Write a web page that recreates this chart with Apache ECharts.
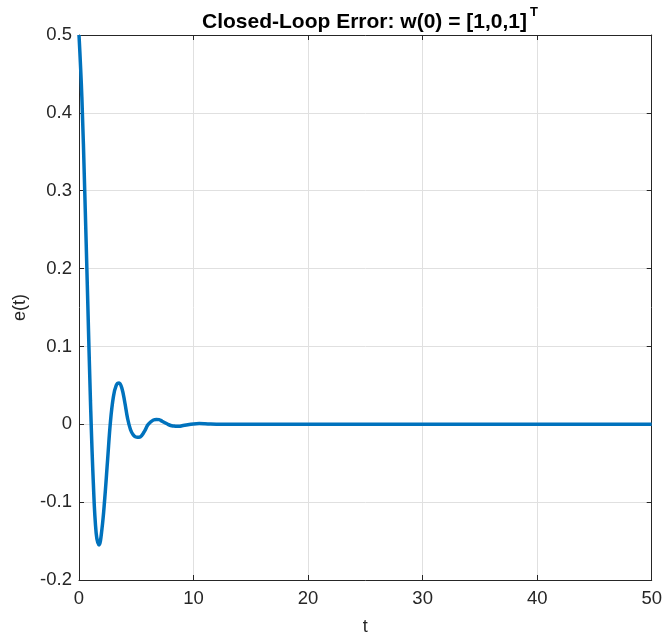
<!DOCTYPE html>
<html>
<head>
<meta charset="utf-8">
<script src="https://cdn.jsdelivr.net/npm/echarts@6/dist/echarts.min.js"></script>
<style>
html,body{margin:0;padding:0;background:#fff;}
#c{width:665px;height:641px;}
</style>
</head>
<body>
<div id="c"></div>
<script>
// time samples (t) and closed-loop error values e(t)
var tValues = [0, 0.25, 0.5, 0.75, 1.0, 1.25, 1.5, 1.75, 2.0, 2.25, 2.5, 2.75, 3.0, 3.25, 3.5, 3.75, 4.0, 4.25, 4.5, 4.75, 5.0, 5.25, 5.5, 5.75, 6.0, 6.25, 6.5, 6.75, 7.0, 7.25, 7.5, 7.75, 8.0, 8.25, 8.5, 8.75, 9.0, 9.5, 10.0, 10.5, 11.0, 11.5, 12.0, 13.0, 20, 30, 40, 50];
var eValues = [0.5, 0.42, 0.30, 0.165, 0.03, -0.075, -0.14, -0.155, -0.135, -0.095, -0.045, 0.004, 0.035, 0.05, 0.053, 0.046, 0.028, 0.007, -0.007, -0.014, -0.0165, -0.0167, -0.014, -0.008, -0.001, 0.003, 0.0055, 0.0062, 0.006, 0.004, 0.002, 0.0, -0.0015, -0.0022, -0.0026, -0.0026, -0.002, -0.0005, 0.0005, 0.0009, 0.0007, 0.0003, 0.0001, 0, 0, 0, 0, 0];
var xTicks = [0, 10, 20, 30, 40, 50];
var yTicks = [-0.2, -0.1, 0, 0.1, 0.2, 0.3, 0.4, 0.5];
var titleMain = 'Closed-Loop Error: w(0) = [1,0,1]';
var titleSup = 'T';
var xName = 't';
var yName = 'e(t)';

var chart = echarts.init(document.getElementById('c'), null, {renderer: 'canvas'});
var seriesData = tValues.map(function (t, i) { return [t, eValues[i]]; });
var font = 'Liberation Sans, Arial, Helvetica, sans-serif';
var axisCol = '#262626';
var tickFs = 18.5;

function mkX(pos, showLabel) {
  return {
    type: 'value', position: pos, min: xTicks[0], max: xTicks[xTicks.length - 1], interval: 10,
    axisLine: {show: true, onZero: false, lineStyle: {color: axisCol, width: 1}},
    axisTick: {show: true, inside: true, length: 5, lineStyle: {color: axisCol}},
    axisLabel: {show: showLabel, color: axisCol, fontSize: tickFs, fontFamily: font, margin: 9},
    splitLine: {show: showLabel, lineStyle: {color: '#e0e0e0', width: 1}},
    name: showLabel ? xName : '', nameLocation: 'middle', nameGap: 38,
    nameTextStyle: {color: axisCol, fontSize: 18, fontFamily: font}
  };
}
function mkY(pos, showLabel) {
  return {
    type: 'value', position: pos, min: yTicks[0], max: yTicks[yTicks.length - 1], interval: 0.1,
    axisLine: {show: true, onZero: false, lineStyle: {color: axisCol, width: 1}},
    axisTick: {show: true, inside: true, length: 5, lineStyle: {color: axisCol}},
    axisLabel: {show: showLabel, color: axisCol, fontSize: tickFs, fontFamily: font, margin: 7,
      formatter: function (v) { return (Math.round(v * 10) / 10).toString(); }},
    splitLine: {show: showLabel, lineStyle: {color: '#e0e0e0', width: 1}},
    name: showLabel ? yName : '', nameLocation: 'middle', nameGap: 45, nameRotate: 90,
    nameTextStyle: {color: axisCol, fontSize: 18, fontFamily: font}
  };
}

chart.setOption({
  backgroundColor: '#ffffff',
  animation: false,
  graphic: [
    {type: 'text', x: 202, y: 22, silent: true,
      style: {text: titleMain, fill: '#000', fontSize: 21, fontWeight: 'bold', fontFamily: font, align: 'left', verticalAlign: 'middle'}},
    {type: 'text', x: 530, y: 12, silent: true,
      style: {text: titleSup, fill: '#000', fontSize: 13, fontWeight: 'bold', fontFamily: font, align: 'left', verticalAlign: 'middle'}}
  ],
  grid: {left: 79, right: 13, top: 35, bottom: 58, containLabel: false},
  xAxis: [mkX('bottom', true), mkX('top', false)],
  yAxis: [mkY('left', true), mkY('right', false)],
  series: [{
    type: 'line', xAxisIndex: 0, yAxisIndex: 0,
    data: seriesData, showSymbol: false, smooth: 0.4, clip: true,
    lineStyle: {color: '#0072BD', width: 3.5}
  }]
});
</script>
</body>
</html>
